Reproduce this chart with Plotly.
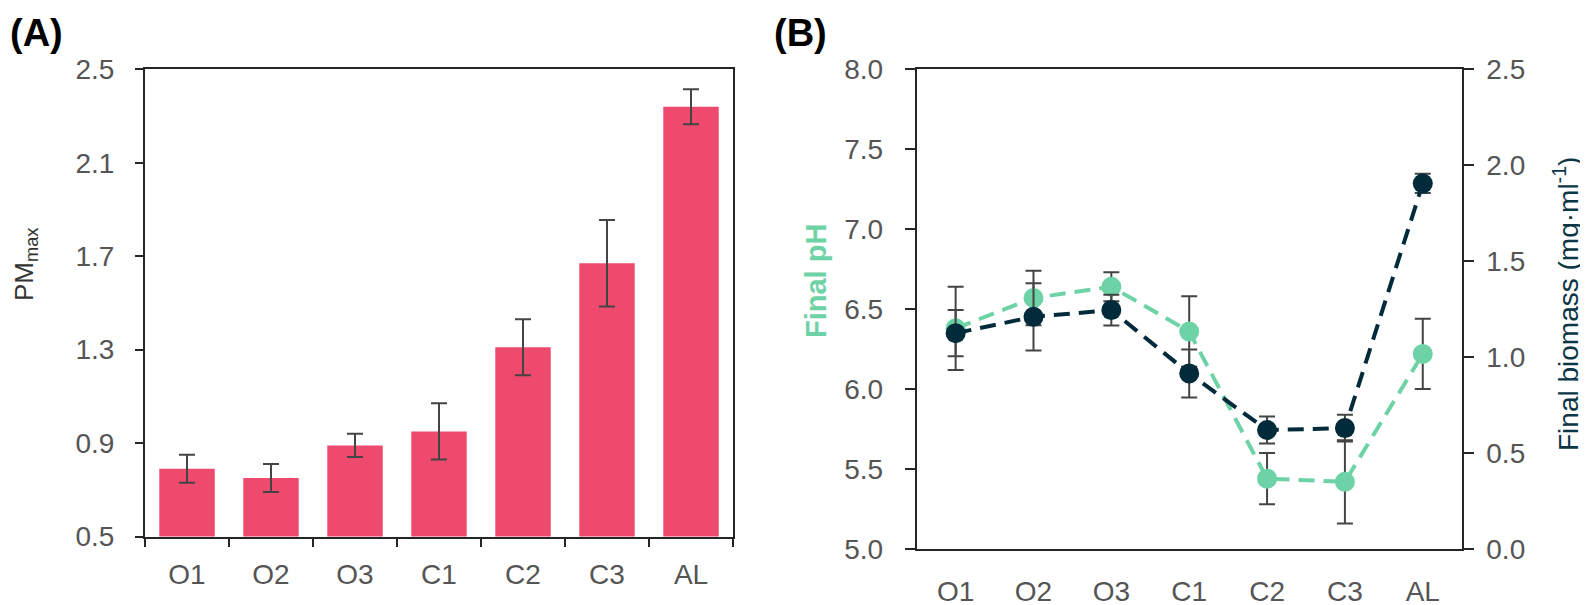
import plotly.graph_objects as go

categories = ["O1", "O2", "O3", "C1", "C2", "C3", "AL"]

# Panel A: PMmax
pm_max = [0.79, 0.75, 0.89, 0.95, 1.31, 1.67, 2.34]
pm_max_err = [0.06, 0.06, 0.05, 0.12, 0.12, 0.185, 0.075]

# Panel B: final pH and final biomass
final_ph = [6.38, 6.57, 6.64, 6.36, 5.44, 5.42, 6.22]
final_ph_err = [0.26, 0.17, 0.09, 0.22, 0.16, 0.26, 0.22]
final_biomass = [1.125, 1.21, 1.245, 0.915, 0.62, 0.63, 1.905]
final_biomass_err = [0.12, 0.175, 0.08, 0.125, 0.07, 0.07, 0.05]

W, H = 1588, 605
OFF = 8  # page body margin
BAR = "#EE4A6E"
GREEN = "#6DD3A6"
NAVY = "#012A3A"
ERR = "#444444"
AX = "#262626"
TXT = "#555555"
FONT = "Liberation Sans, Arial, sans-serif"

def px_x(p):
    return (p - OFF) / W

def px_y(p):
    return 1 - (p - OFF) / H

fig = go.Figure()

fig.add_trace(go.Bar(
    x=categories, y=pm_max, width=0.66,
    marker=dict(color=BAR, line=dict(width=0)),
    error_y=dict(type="data", array=pm_max_err, color=ERR, thickness=2, width=8),
    xaxis="x", yaxis="y", showlegend=False,
))

fig.add_trace(go.Scatter(
    x=categories, y=final_ph, mode="lines+markers",
    line=dict(color=GREEN, width=4, dash="16px,9px"),
    marker=dict(color=GREEN, size=20),
    error_y=dict(type="data", array=final_ph_err, color=ERR, thickness=2, width=8),
    xaxis="x2", yaxis="y2", showlegend=False,
))

fig.add_trace(go.Scatter(
    x=categories, y=final_biomass, mode="lines+markers",
    line=dict(color=NAVY, width=4, dash="16px,9px"),
    marker=dict(color=NAVY, size=20),
    error_y=dict(type="data", array=final_biomass_err, color=ERR, thickness=2, width=8),
    xaxis="x3", yaxis="y3", showlegend=False,
))

tickfont = dict(family=FONT, size=28, color=TXT)

fig.update_layout(
    template="none",
    width=W, height=H,
    margin=dict(l=0, r=0, t=0, b=0, pad=0),
    paper_bgcolor="white", plot_bgcolor="white",
    font=dict(family=FONT),
    xaxis=dict(
        domain=[px_x(145), px_x(733)], anchor="y", automargin=False,
        type="category", range=[-0.5, 6.5],
        showline=True, linecolor=AX, linewidth=2, mirror=True,
        ticks="outside", tickson="boundaries", ticklen=8, tickwidth=2, tickcolor=AX,
        tickfont=tickfont, ticklabelstandoff=12,
        showgrid=False, zeroline=False,
    ),
    yaxis=dict(
        domain=[px_y(536.5), px_y(69.3)], anchor="x", automargin=False,
        range=[0.5, 2.5], tick0=0.5, dtick=0.4, tickformat=".1f",
        showline=True, linecolor=AX, linewidth=2, mirror=True,
        ticks="outside", ticklen=8, tickwidth=2, tickcolor=AX,
        tickfont=tickfont, ticklabelstandoff=15,
        showgrid=False, zeroline=False,
    ),
    xaxis2=dict(
        domain=[px_x(916.7), px_x(1461.7)], anchor="y2", automargin=False,
        type="category", range=[-0.5, 6.5],
        showline=True, linecolor=AX, linewidth=2, mirror=True,
        ticks="", tickfont=tickfont, ticklabelstandoff=16,
        showgrid=False, zeroline=False,
    ),
    xaxis3=dict(
        domain=[px_x(916.7), px_x(1461.7)], anchor="y3", overlaying="x2", automargin=False,
        type="category", range=[-0.5, 6.5], visible=False,
    ),
    yaxis2=dict(
        domain=[px_y(549), px_y(69.3)], anchor="x2", automargin=False,
        range=[5, 8], dtick=0.5, tickformat=".1f",
        showline=True, linecolor=AX, linewidth=2,
        ticks="outside", ticklen=10, tickwidth=2, tickcolor=AX,
        tickfont=tickfont, ticklabelstandoff=16,
        showgrid=False, zeroline=False,
    ),
    yaxis3=dict(
        domain=[px_y(549), px_y(69.3)], anchor="x3", overlaying="y2", side="right",
        automargin=False,
        range=[0, 2.5], dtick=0.5, tickformat=".1f",
        showline=True, linecolor=AX, linewidth=2,
        ticks="outside", ticklen=10, tickwidth=2, tickcolor=AX,
        tickfont=tickfont, ticklabelstandoff=7,
        showgrid=False, zeroline=False,
    ),
    annotations=[
        dict(text="<b>(A)</b>", x=px_x(8), y=px_y(33), xref="paper", yref="paper",
             xanchor="left", yanchor="middle", showarrow=False,
             font=dict(family=FONT, size=38, color="black")),
        dict(text="<b>(B)</b>", x=px_x(772), y=px_y(33), xref="paper", yref="paper",
             xanchor="left", yanchor="middle", showarrow=False,
             font=dict(family=FONT, size=38, color="black")),
        dict(text="PM<sub>max</sub>", x=px_x(25), y=px_y(265), xref="paper", yref="paper",
             xanchor="center", yanchor="middle", showarrow=False, textangle=-90,
             font=dict(family=FONT, size=26, color="#333333")),
        dict(text="<b>Final pH</b>", x=px_x(816), y=px_y(281), xref="paper", yref="paper",
             xanchor="center", yanchor="middle", showarrow=False, textangle=-90,
             font=dict(family=FONT, size=29, color=GREEN)),
        dict(text="Final biomass (mg·ml<sup>-1</sup>)", x=px_x(1566), y=px_y(304),
             xref="paper", yref="paper",
             xanchor="center", yanchor="middle", showarrow=False, textangle=-90,
             font=dict(family=FONT, size=28, color="#0B3646")),
    ],
)

fig.write_html("out.html")
